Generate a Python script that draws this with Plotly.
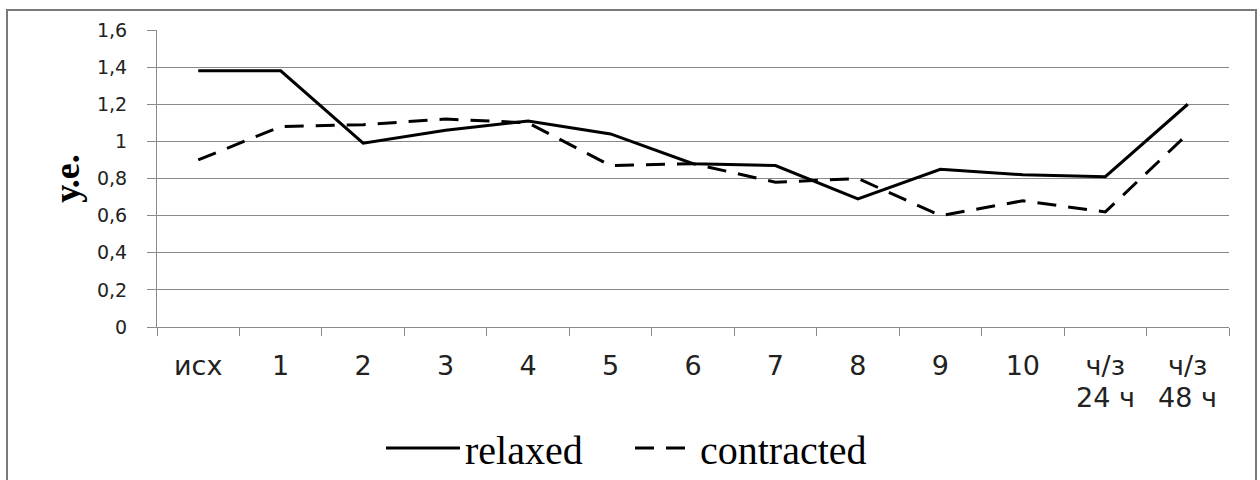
import plotly.graph_objects as go

categories = ["исх", "1", "2", "3", "4", "5", "6", "7", "8", "9", "10", "ч/з 24 ч", "ч/з 48 ч"]
tick_line1 = ["исх", "1", "2", "3", "4", "5", "6", "7", "8", "9", "10", "ч/з", "ч/з"]
tick_line2 = ["", "", "", "", "", "", "", "", "", "", "", "24 ч", "48 ч"]
relaxed = [1.38, 1.38, 0.99, 1.06, 1.11, 1.04, 0.88, 0.87, 0.69, 0.85, 0.82, 0.81, 1.20]
contracted = [0.90, 1.08, 1.09, 1.12, 1.10, 0.87, 0.88, 0.78, 0.80, 0.60, 0.68, 0.62, 1.04]
y_ticks = [0, 0.2, 0.4, 0.6, 0.8, 1.0, 1.2, 1.4, 1.6]
y_title = "у.е."

W, H = 1260, 480
L, R, T, B = 157, 31, 30, 153
pw, ph = W - L - R, H - T - B

fig = go.Figure()
fig.add_trace(go.Scatter(x=categories, y=relaxed, mode="lines", name="relaxed",
                         line=dict(color="black", width=3), legend="legend"))
fig.add_trace(go.Scatter(x=categories, y=contracted, mode="lines", name="contracted",
                         line=dict(color="black", width=3, dash="19px,12px"), legend="legend2"))

grid = "#8a8a8a"
fig.update_xaxes(
    type="category", categoryorder="array", categoryarray=categories,
    tickvals=categories, ticktext=tick_line1,
    tickson="boundaries", ticks="outside", ticklen=8, tickcolor=grid, tickwidth=1,
    showline=True, linecolor=grid, linewidth=1, showgrid=False,
    tickfont=dict(family="DejaVu Sans", size=27, color="#222"),
    ticklabelstandoff=15, range=[-0.5, len(categories) - 0.5],
)
fig.update_yaxes(
    range=[0, 1.6], tickvals=y_ticks, ticks="outside", ticklen=9, tickcolor=grid,
    showline=True, linecolor=grid, linewidth=1, showgrid=True, gridcolor=grid, gridwidth=1,
    zeroline=False,
    tickfont=dict(family="DejaVu Sans", size=19, color="#222"),
    ticklabelstandoff=16,
    title=dict(text="<b>" + y_title + "</b>", font=dict(family="Liberation Serif", size=36, color="black"), standoff=6),
)

for c, t in zip(categories, tick_line2):
    if t:
        fig.add_annotation(x=c, xref="x", y=(T + ph - 397) / ph, yref="paper", yanchor="middle",
                           text=t, showarrow=False,
                           font=dict(family="DejaVu Sans", size=27, color="#222"))

# outer frame
fig.add_shape(type="rect", xref="paper", yref="paper",
              x0=(7 - L) / pw, x1=(1256 - L) / pw, y0=(T + ph - 482) / ph, y1=(T + ph - 10) / ph,
              line=dict(color="#7a7a7a", width=2), fillcolor="rgba(0,0,0,0)", layer="below")

leg_font = dict(family="Liberation Serif", size=40, color="black")
fig.update_layout(
    width=W, height=H, margin=dict(l=L, r=R, t=T, b=B, autoexpand=False),
    paper_bgcolor="white", plot_bgcolor="white", separators=", ",
    showlegend=True,
    legend=dict(orientation="h", x=(381 - L) / pw, xanchor="left", y=(T + ph - 448) / ph, yanchor="middle",
                font=leg_font, itemwidth=74, bgcolor="rgba(0,0,0,0)"),
    legend2=dict(orientation="h", x=(630 - L) / pw, xanchor="left", y=(T + ph - 448) / ph, yanchor="middle",
                 font=leg_font, itemwidth=60, bgcolor="rgba(0,0,0,0)"),
)

fig.write_html("out.html")
